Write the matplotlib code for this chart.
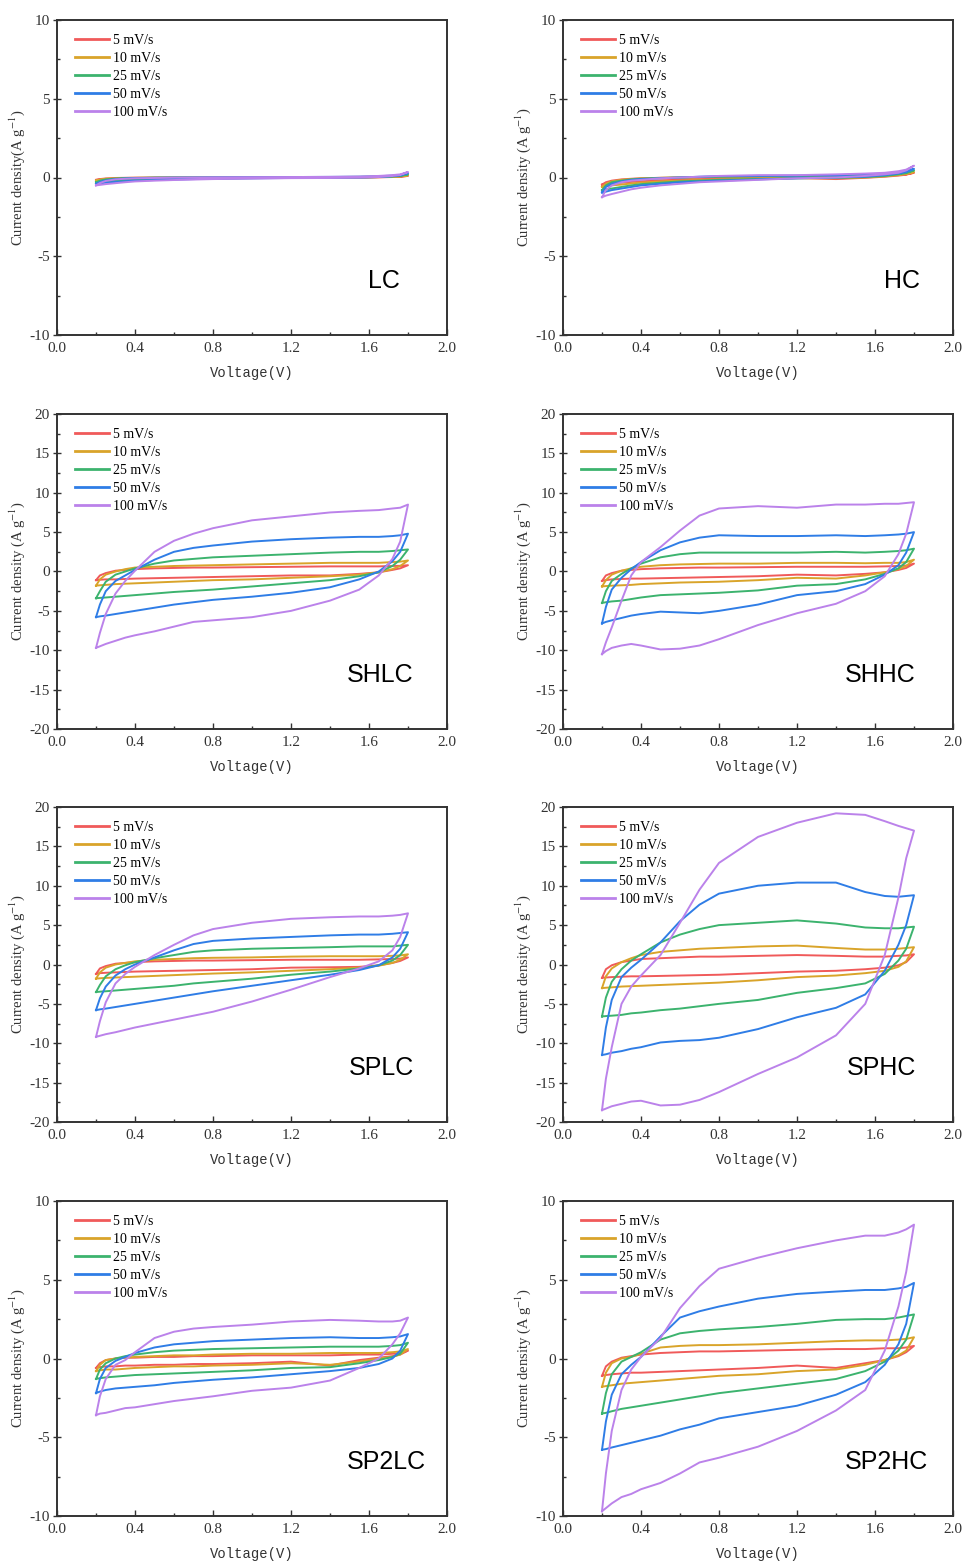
import numpy as np
import matplotlib.pyplot as plt
from matplotlib.ticker import MultipleLocator, FormatStrFormatter

plt.rcParams['font.family'] = ['Liberation Serif', 'DejaVu Serif']
plt.rcParams['axes.unicode_minus'] = False
plt.rcParams['mathtext.fontset'] = 'stix'

# voltage grid (V) shared by all branches
volts = [0.2, 0.22, 0.25, 0.3, 0.35, 0.4, 0.5, 0.6, 0.7, 0.8, 1.0, 1.2, 1.4, 1.55, 1.65, 1.72, 1.76, 1.8]

rates = ['5 mV/s', '10 mV/s', '25 mV/s', '50 mV/s', '100 mV/s']
colors = ['#f05a5a', '#d9a42a', '#3cb36e', '#2f7de6', '#bb82ea']

# anodic (forward) and cathodic (reverse) branches, rows = 5,10,25,50,100 mV/s
lc_up = [
    [-0.15, -0.1, -0.06, -0.03, -0.02, -0.01, 0.0, 0.0, 0.0, 0.01, 0.01, 0.01, 0.02, 0.02, 0.03, 0.04, 0.06, 0.1],
    [-0.2, -0.13, -0.08, -0.05, -0.03, -0.02, -0.01, 0.0, 0.0, 0.01, 0.01, 0.02, 0.02, 0.03, 0.04, 0.06, 0.08, 0.14],
    [-0.3, -0.2, -0.12, -0.07, -0.04, -0.03, -0.01, 0.0, 0.0, 0.01, 0.02, 0.02, 0.03, 0.04, 0.06, 0.09, 0.12, 0.2],
    [-0.4, -0.28, -0.18, -0.1, -0.06, -0.04, -0.02, -0.01, 0.0, 0.01, 0.02, 0.03, 0.04, 0.05, 0.08, 0.12, 0.16, 0.28],
    [-0.5, -0.35, -0.22, -0.12, -0.08, -0.05, -0.03, -0.01, 0.0, 0.01, 0.02, 0.03, 0.04, 0.06, 0.1, 0.15, 0.2, 0.35],
]
lc_down = [
    [-0.15, -0.14, -0.12, -0.1, -0.09, -0.08, -0.06, -0.05, -0.04, -0.03, -0.02, -0.01, -0.01, 0.0, 0.01, 0.03, 0.05, 0.1],
    [-0.2, -0.18, -0.16, -0.14, -0.12, -0.1, -0.08, -0.07, -0.06, -0.05, -0.03, -0.02, -0.01, 0.0, 0.02, 0.04, 0.07, 0.14],
    [-0.3, -0.28, -0.25, -0.21, -0.18, -0.15, -0.12, -0.1, -0.08, -0.06, -0.04, -0.02, -0.01, 0.0, 0.03, 0.06, 0.1, 0.2],
    [-0.4, -0.37, -0.33, -0.28, -0.24, -0.2, -0.16, -0.13, -0.1, -0.08, -0.05, -0.03, -0.02, 0.0, 0.03, 0.08, 0.13, 0.28],
    [-0.5, -0.47, -0.42, -0.36, -0.3, -0.25, -0.2, -0.16, -0.13, -0.1, -0.07, -0.04, -0.03, -0.01, 0.03, 0.1, 0.16, 0.35],
]

hc_up = [
    [-0.45, -0.3, -0.2, -0.12, -0.08, -0.05, -0.02, 0.0, 0.02, 0.03, 0.05, 0.06, 0.08, 0.1, 0.13, 0.17, 0.2, 0.3],
    [-0.6, -0.4, -0.25, -0.15, -0.1, -0.06, -0.02, 0.0, 0.02, 0.04, 0.06, 0.08, 0.1, 0.12, 0.15, 0.2, 0.25, 0.35],
    [-0.8, -0.5, -0.3, -0.2, -0.12, -0.08, -0.03, 0.0, 0.03, 0.05, 0.08, 0.1, 0.12, 0.15, 0.2, 0.25, 0.32, 0.45],
    [-0.95, -0.6, -0.4, -0.25, -0.15, -0.1, -0.05, 0.0, 0.05, 0.08, 0.1, 0.12, 0.15, 0.2, 0.25, 0.3, 0.4, 0.55],
    [-1.25, -0.8, -0.5, -0.3, -0.2, -0.15, -0.05, 0.0, 0.05, 0.1, 0.15, 0.15, 0.2, 0.25, 0.3, 0.4, 0.5, 0.75],
]
hc_down = [
    [-0.45, -0.42, -0.38, -0.33, -0.28, -0.24, -0.18, -0.14, -0.11, -0.08, -0.05, -0.03, -0.1, -0.02, 0.05, 0.12, 0.18, 0.3],
    [-0.6, -0.55, -0.5, -0.45, -0.38, -0.32, -0.25, -0.2, -0.16, -0.12, -0.08, -0.04, -0.05, 0.0, 0.07, 0.15, 0.22, 0.35],
    [-0.8, -0.75, -0.7, -0.6, -0.5, -0.42, -0.33, -0.25, -0.2, -0.15, -0.1, -0.05, -0.02, 0.03, 0.1, 0.2, 0.28, 0.45],
    [-0.95, -0.9, -0.8, -0.7, -0.6, -0.5, -0.4, -0.3, -0.25, -0.2, -0.12, -0.05, 0.0, 0.05, 0.15, 0.25, 0.35, 0.55],
    [-1.25, -1.15, -1.05, -0.9, -0.75, -0.65, -0.5, -0.4, -0.3, -0.25, -0.15, -0.05, 0.0, 0.1, 0.2, 0.3, 0.45, 0.75],
]

shlc_up = [
    [-1.1, -0.5, -0.2, 0.1, 0.2, 0.3, 0.4, 0.45, 0.5, 0.5, 0.55, 0.6, 0.65, 0.65, 0.65, 0.7, 0.72, 0.8],
    [-1.8, -1.0, -0.4, 0.0, 0.3, 0.5, 0.6, 0.7, 0.75, 0.8, 0.9, 1.0, 1.1, 1.1, 1.1, 1.2, 1.25, 1.4],
    [-3.4, -2.5, -1.3, -0.4, 0.0, 0.4, 1.0, 1.4, 1.6, 1.8, 2.0, 2.2, 2.4, 2.5, 2.5, 2.6, 2.7, 2.8],
    [-5.8, -4.2, -2.5, -1.2, -0.5, 0.2, 1.5, 2.5, 3.0, 3.3, 3.8, 4.1, 4.3, 4.4, 4.4, 4.5, 4.6, 4.8],
    [-9.7, -7.8, -5.4, -2.8, -1.2, 0.1, 2.5, 3.9, 4.8, 5.5, 6.5, 7.0, 7.5, 7.7, 7.8, 8.0, 8.1, 8.5],
]
shlc_down = [
    [-1.1, -1.05, -1.0, -1.0, -0.95, -0.9, -0.85, -0.8, -0.75, -0.7, -0.6, -0.5, -0.5, -0.3, -0.1, 0.2, 0.4, 0.8],
    [-1.8, -1.75, -1.7, -1.6, -1.55, -1.5, -1.4, -1.3, -1.2, -1.1, -1.0, -0.8, -0.6, -0.4, -0.1, 0.3, 0.7, 1.4],
    [-3.4, -3.35, -3.3, -3.2, -3.1, -3.0, -2.8, -2.6, -2.45, -2.3, -1.9, -1.5, -1.1, -0.6, -0.1, 0.7, 1.5, 2.8],
    [-5.8, -5.7, -5.6, -5.4, -5.2, -5.0, -4.6, -4.2, -3.9, -3.6, -3.2, -2.7, -2.0, -1.0, 0.0, 1.3, 2.5, 4.8],
    [-9.7, -9.5, -9.2, -8.8, -8.4, -8.1, -7.6, -7.0, -6.4, -6.2, -5.8, -5.0, -3.7, -2.3, -0.5, 1.6, 3.8, 8.5],
]

shhc_up = [
    [-1.2, -0.5, -0.2, 0.1, 0.2, 0.3, 0.4, 0.45, 0.5, 0.5, 0.55, 0.6, 0.6, 0.6, 0.65, 0.7, 0.75, 1.0],
    [-1.9, -1.1, -0.4, 0.1, 0.4, 0.6, 0.8, 0.9, 0.95, 1.0, 1.0, 1.1, 1.1, 1.05, 1.1, 1.1, 1.2, 1.5],
    [-4.0, -2.5, -1.2, -0.3, 0.4, 1.0, 1.8, 2.2, 2.4, 2.4, 2.4, 2.4, 2.5, 2.4, 2.5, 2.6, 2.7, 2.9],
    [-6.6, -4.5, -2.3, -0.8, 0.3, 1.2, 2.7, 3.7, 4.3, 4.6, 4.5, 4.5, 4.6, 4.5, 4.6, 4.7, 4.8, 5.0],
    [-10.5, -9.0, -7.1, -3.7, -0.5, 1.2, 3.1, 5.2, 7.1, 8.0, 8.3, 8.1, 8.5, 8.5, 8.6, 8.6, 8.7, 8.8],
]
shhc_down = [
    [-1.2, -1.1, -1.0, -0.95, -0.9, -0.9, -0.85, -0.8, -0.75, -0.7, -0.6, -0.4, -0.5, -0.3, -0.1, 0.2, 0.45, 1.0],
    [-1.9, -1.85, -1.8, -1.75, -1.7, -1.6, -1.5, -1.4, -1.35, -1.3, -1.1, -0.8, -0.9, -0.5, -0.1, 0.3, 0.7, 1.5],
    [-4.0, -3.9, -3.8, -3.7, -3.5, -3.3, -3.0, -2.9, -2.8, -2.7, -2.4, -1.8, -1.6, -1.0, -0.3, 0.4, 1.2, 2.9],
    [-6.6, -6.4, -6.2, -5.9, -5.6, -5.4, -5.1, -5.2, -5.3, -5.0, -4.2, -3.0, -2.5, -1.6, -0.4, 0.8, 2.4, 5.0],
    [-10.5, -10.1, -9.7, -9.4, -9.2, -9.4, -9.9, -9.8, -9.4, -8.6, -6.8, -5.3, -4.1, -2.5, -0.6, 2.2, 4.8, 8.8],
]

splc_up = [
    [-1.2, -0.5, -0.2, 0.1, 0.2, 0.3, 0.4, 0.45, 0.5, 0.5, 0.55, 0.6, 0.6, 0.6, 0.65, 0.7, 0.75, 0.9],
    [-1.8, -1.0, -0.4, 0.0, 0.2, 0.4, 0.6, 0.7, 0.8, 0.85, 0.9, 1.0, 1.05, 1.05, 1.05, 1.1, 1.15, 1.3],
    [-3.5, -2.6, -1.5, -0.6, -0.1, 0.3, 0.8, 1.2, 1.6, 1.8, 2.0, 2.1, 2.2, 2.3, 2.3, 2.3, 2.4, 2.5],
    [-5.8, -4.3, -2.8, -1.4, -0.6, 0.0, 0.9, 1.8, 2.6, 3.0, 3.3, 3.5, 3.7, 3.8, 3.8, 3.9, 4.0, 4.1],
    [-9.2, -7.2, -4.8, -2.4, -1.2, -0.3, 1.2, 2.5, 3.7, 4.5, 5.3, 5.8, 6.0, 6.1, 6.1, 6.2, 6.3, 6.5],
]
splc_down = [
    [-1.2, -1.1, -1.05, -1.0, -0.95, -0.9, -0.85, -0.8, -0.75, -0.7, -0.6, -0.4, -0.35, -0.3, -0.1, 0.2, 0.45, 0.9],
    [-1.8, -1.75, -1.7, -1.65, -1.6, -1.55, -1.45, -1.35, -1.25, -1.15, -1.0, -0.8, -0.6, -0.4, -0.15, 0.2, 0.6, 1.3],
    [-3.5, -3.45, -3.4, -3.3, -3.2, -3.1, -2.9, -2.7, -2.4, -2.2, -1.8, -1.3, -0.9, -0.5, -0.1, 0.5, 1.2, 2.5],
    [-5.8, -5.7, -5.6, -5.4, -5.2, -5.0, -4.6, -4.2, -3.8, -3.4, -2.7, -2.0, -1.3, -0.7, -0.1, 0.9, 2.0, 4.1],
    [-9.2, -9.05, -8.85, -8.6, -8.3, -8.0, -7.5, -7.0, -6.5, -6.0, -4.7, -3.2, -1.6, -0.5, 0.4, 1.8, 3.5, 6.5],
]

sphc_up = [
    [-1.7, -0.6, -0.1, 0.3, 0.5, 0.7, 0.8, 0.9, 1.0, 1.0, 1.1, 1.2, 1.1, 1.0, 1.0, 1.1, 1.15, 1.3],
    [-3.0, -1.5, -0.5, 0.3, 0.8, 1.2, 1.6, 1.8, 2.0, 2.1, 2.3, 2.4, 2.1, 1.9, 1.9, 2.0, 2.1, 2.2],
    [-6.6, -4.2, -2.2, -0.6, 0.5, 1.3, 2.8, 3.8, 4.5, 5.0, 5.3, 5.6, 5.2, 4.7, 4.6, 4.6, 4.7, 4.8],
    [-11.5, -8.0, -4.5, -1.6, -0.4, 0.6, 2.8, 5.5, 7.6, 9.0, 10.0, 10.4, 10.4, 9.2, 8.7, 8.6, 8.7, 8.8],
    [-18.5, -14.5, -10.5, -5.0, -2.8, -1.4, 1.2, 5.3, 9.5, 12.9, 16.2, 18.0, 19.2, 19.0, 18.2, 17.6, 17.3, 17.0],
]
sphc_down = [
    [-1.7, -1.65, -1.6, -1.55, -1.5, -1.5, -1.45, -1.4, -1.35, -1.3, -1.1, -0.9, -0.8, -0.6, -0.4, -0.1, 0.3, 1.3],
    [-3.0, -2.95, -2.9, -2.8, -2.75, -2.7, -2.6, -2.5, -2.4, -2.3, -2.0, -1.6, -1.4, -1.1, -0.8, -0.3, 0.4, 2.2],
    [-6.6, -6.55, -6.5, -6.4, -6.2, -6.1, -5.8, -5.6, -5.3, -5.0, -4.5, -3.6, -3.0, -2.4, -1.2, 0.5, 2.0, 4.8],
    [-11.5, -11.4, -11.2, -11.0, -10.7, -10.5, -9.9, -9.7, -9.6, -9.3, -8.2, -6.7, -5.5, -3.8, -0.8, 2.5, 5.0, 8.8],
    [-18.5, -18.3, -18.0, -17.7, -17.4, -17.3, -17.9, -17.8, -17.2, -16.2, -13.9, -11.8, -9.0, -5.0, 1.2, 8.5, 13.5, 17.0],
]

sp2lc_up = [
    [-0.6, -0.3, -0.1, 0.0, 0.05, 0.05, 0.1, 0.1, 0.15, 0.15, 0.2, 0.2, 0.2, 0.25, 0.25, 0.3, 0.35, 0.5],
    [-0.8, -0.4, -0.1, 0.0, 0.05, 0.1, 0.15, 0.2, 0.2, 0.25, 0.3, 0.3, 0.35, 0.35, 0.35, 0.4, 0.45, 0.6],
    [-1.3, -0.7, -0.3, 0.0, 0.15, 0.25, 0.4, 0.5, 0.55, 0.6, 0.65, 0.7, 0.75, 0.75, 0.75, 0.8, 0.85, 1.0],
    [-2.2, -1.3, -0.6, -0.15, 0.1, 0.35, 0.7, 0.9, 1.0, 1.1, 1.2, 1.3, 1.35, 1.3, 1.3, 1.35, 1.4, 1.55],
    [-3.6, -2.4, -1.3, -0.4, -0.1, 0.4, 1.3, 1.7, 1.9, 2.0, 2.15, 2.35, 2.45, 2.4, 2.35, 2.35, 2.4, 2.6],
]
sp2lc_down = [
    [-0.6, -0.55, -0.5, -0.5, -0.45, -0.45, -0.4, -0.4, -0.35, -0.35, -0.3, -0.2, -0.45, -0.1, 0.05, 0.15, 0.25, 0.5],
    [-0.8, -0.75, -0.7, -0.7, -0.65, -0.6, -0.55, -0.5, -0.5, -0.45, -0.4, -0.3, -0.4, -0.2, 0.0, 0.1, 0.25, 0.6],
    [-1.3, -1.25, -1.2, -1.15, -1.1, -1.05, -1.0, -0.95, -0.9, -0.85, -0.75, -0.6, -0.55, -0.3, -0.1, 0.1, 0.3, 1.0],
    [-2.2, -2.1, -2.0, -1.9, -1.85, -1.8, -1.7, -1.55, -1.45, -1.35, -1.2, -1.0, -0.8, -0.6, -0.35, 0.0, 0.5, 1.55],
    [-3.6, -3.5, -3.45, -3.3, -3.15, -3.1, -2.9, -2.7, -2.55, -2.4, -2.05, -1.85, -1.4, -0.6, 0.0, 0.9, 1.6, 2.6],
]

sp2hc_up = [
    [-1.1, -0.5, -0.2, 0.05, 0.15, 0.25, 0.35, 0.4, 0.45, 0.45, 0.5, 0.55, 0.6, 0.6, 0.65, 0.65, 0.7, 0.8],
    [-1.8, -0.9, -0.3, 0.0, 0.1, 0.3, 0.7, 0.8, 0.85, 0.85, 0.9, 1.0, 1.1, 1.15, 1.15, 1.2, 1.25, 1.35],
    [-3.5, -2.2, -1.0, -0.2, 0.1, 0.4, 1.2, 1.6, 1.75, 1.85, 2.0, 2.2, 2.45, 2.5, 2.5, 2.6, 2.7, 2.8],
    [-5.8, -4.0, -2.3, -1.0, -0.4, 0.1, 1.4, 2.6, 3.0, 3.3, 3.8, 4.1, 4.25, 4.35, 4.35, 4.45, 4.55, 4.8],
    [-9.7, -7.3, -4.6, -2.0, -0.7, 0.1, 1.3, 3.2, 4.6, 5.7, 6.4, 7.0, 7.5, 7.8, 7.8, 8.0, 8.2, 8.5],
]
sp2hc_down = [
    [-1.1, -1.05, -1.0, -0.95, -0.9, -0.9, -0.85, -0.8, -0.75, -0.7, -0.6, -0.45, -0.6, -0.3, -0.1, 0.15, 0.4, 0.8],
    [-1.8, -1.75, -1.7, -1.6, -1.55, -1.5, -1.4, -1.3, -1.2, -1.1, -1.0, -0.8, -0.7, -0.4, -0.1, 0.2, 0.5, 1.35],
    [-3.5, -3.45, -3.35, -3.2, -3.1, -3.0, -2.8, -2.6, -2.4, -2.2, -1.9, -1.6, -1.3, -0.8, -0.2, 0.5, 1.2, 2.8],
    [-5.8, -5.75, -5.65, -5.5, -5.35, -5.2, -4.9, -4.5, -4.2, -3.8, -3.4, -3.0, -2.3, -1.5, -0.4, 0.9, 2.2, 4.8],
    [-9.7, -9.5, -9.2, -8.8, -8.6, -8.3, -7.9, -7.3, -6.6, -6.3, -5.6, -4.6, -3.3, -2.0, 0.5, 3.3, 5.5, 8.5],
]

names = ['LC', 'HC', 'SHLC', 'SHHC', 'SPLC', 'SPHC', 'SP2LC', 'SP2HC']
ups = [lc_up, hc_up, shlc_up, shhc_up, splc_up, sphc_up, sp2lc_up, sp2hc_up]
downs = [lc_down, hc_down, shlc_down, shhc_down, splc_down, sphc_down, sp2lc_down, sp2hc_down]
ylims = [10, 10, 20, 20, 20, 20, 10, 10]
ylabels = ['Current density(A g$^{\\mathrm{-1}}$)'] + ['Current density (A g$^{\\mathrm{-1}}$)'] * 7

# layout (figure pixels)
W, H = 969, 1566
col_left = [57, 563]
row_top = [20, 414, 807, 1201]
ax_w, ax_h = 390, 315
label_x = [0.88, 0.915, 0.915, 0.905, 0.915, 0.905, 0.945, 0.935]

fig = plt.figure(figsize=(W / 100, H / 100), dpi=100)

for i, name in enumerate(names):
    r, c = divmod(i, 2)
    ax = fig.add_axes([col_left[c] / W, 1 - (row_top[r] + ax_h) / H, ax_w / W, ax_h / H])
    vx = np.array(volts)
    for k in range(5):
        up = np.array(ups[i][k])
        dn = np.array(downs[i][k])
        x = np.concatenate([vx, vx[::-1]])
        y = np.concatenate([up, dn[::-1]])
        ax.plot(x, y, color=colors[k], lw=1.4, label=rates[k])

    lim = ylims[i]
    ax.set_xlim(0, 2.0)
    ax.set_ylim(-lim, lim)
    ax.xaxis.set_major_locator(MultipleLocator(0.4))
    ax.xaxis.set_minor_locator(MultipleLocator(0.2))
    ax.xaxis.set_major_formatter(FormatStrFormatter('%.1f'))
    ax.yaxis.set_major_locator(MultipleLocator(5))
    ax.yaxis.set_minor_locator(MultipleLocator(2.5))
    ax.tick_params(which='both', direction='in', labelsize=11, colors='#333333')
    ax.tick_params(which='major', length=4, width=1)
    ax.tick_params(which='minor', length=2.5, width=1)
    ax.tick_params(axis='y', which='major', direction='inout', length=6, pad=2)
    ax.tick_params(axis='x', pad=5)
    for s in ax.spines.values():
        s.set_linewidth(1.4)
        s.set_color('#333333')

    ax.set_xlabel('Voltage(V)', fontsize=10, labelpad=8, color='#333333',
                  family=['Liberation Mono', 'DejaVu Sans Mono'])
    ax.set_ylabel(ylabels[i], fontsize=10.5, labelpad=2, color='#333333')

    leg = ax.legend(loc='upper left', bbox_to_anchor=(0.045, 0.957), frameon=False,
                    fontsize=10, handlelength=2.45, handletextpad=0.3, labelspacing=0.37,
                    borderaxespad=0, borderpad=0)
    for h in leg.get_lines():
        h.set_linewidth(2)

    ax.text(label_x[i], 0.17, name, transform=ax.transAxes, ha='right', va='center',
            fontsize=18, family=['Liberation Sans', 'DejaVu Sans'])

fig.savefig('out.png', dpi=100)
